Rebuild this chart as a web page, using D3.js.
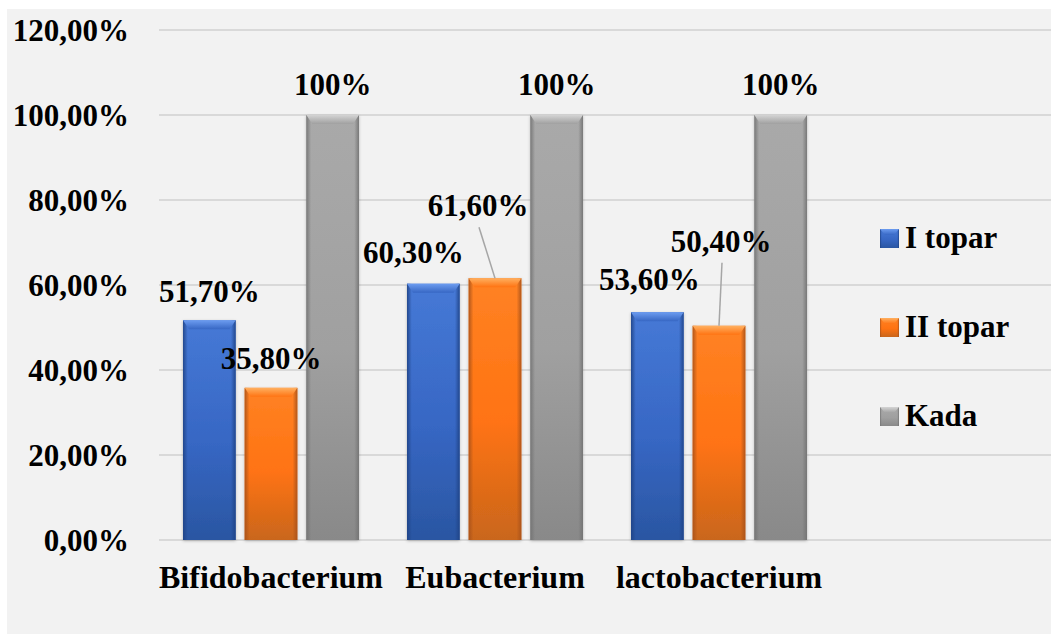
<!DOCTYPE html>
<html>
<head>
<meta charset="utf-8">
<script src="https://cdn.jsdelivr.net/npm/d3@7"></script>
</head>
<body style="margin:0">
<svg id="chart" width="1051" height="634" style="display:block"></svg>
<script>
// Bacteria groups and the three series
const categories = ["Bifidobacterium", "Eubacterium", "lactobacterium"];
const seriesNames = ["I topar", "II topar", "Kada"];
const seriesI = [0.517, 0.603, 0.536];
const seriesII = [0.358, 0.616, 0.504];
const seriesKada = [1.0, 1.0, 1.0];
const valueLabelsI = ["51,70%", "60,30%", "53,60%"];
const valueLabelsII = ["35,80%", "61,60%", "50,40%"];
const valueLabelsKada = ["100%", "100%", "100%"];
const yTicks = [0, 0.2, 0.4, 0.6, 0.8, 1.0, 1.2];
const yTickLabels = ["0,00%", "20,00%", "40,00%", "60,00%", "80,00%", "100,00%", "120,00%"];

// Label placement tweaks (dx, dy from the default spot above a bar); leader shown when pulled far away
const labelShift = {
  "I topar":  [[0, -18], [-20, -21], [-8, -22]],
  "II topar": [[0, -19], [-17, -62], [2, -74]],
  "Kada":     [[0, -20], [0, -20], [0, -20]]
};

const seriesValues = { "I topar": seriesI, "II topar": seriesII, "Kada": seriesKada };
const seriesLabels = { "I topar": valueLabelsI, "II topar": valueLabelsII, "Kada": valueLabelsKada };

const palette = {
  "I topar":  { top: "#4679d6", mid: "#3767c4", bot: "#2a56a2", edge: "#1f4386", bevel: "#6c9cf0" },
  "II topar": { top: "#ff8224", mid: "#ff7312", bot: "#c9661c", edge: "#a9521a", bevel: "#ffb060" },
  "Kada":     { top: "#a9a9a9", mid: "#a0a0a0", bot: "#898989", edge: "#737373", bevel: "#d4d4d4" }
};

const styleText = (sel, size = 31) => sel
  .attr("font-family", "Liberation Serif")
  .style("font-family", '"Liberation Serif", "Times New Roman", serif')
  .style("font-weight", "bold")
  .style("font-size", size + "px")
  .style("fill", "#000");

const svg = d3.select("#chart");
const W = 1051, H = 634;

// Chart area background
svg.append("rect").attr("x", 7).attr("y", 9).attr("width", W - 7).attr("height", H - 9).attr("fill", "#f2f2f2");

const defs = svg.append("defs");
seriesNames.forEach((s, i) => {
  const c = palette[s];
  const g = defs.append("linearGradient").attr("id", "fill" + i).attr("x1", 0).attr("y1", 0).attr("x2", 0).attr("y2", 1);
  g.append("stop").attr("offset", "0%").attr("stop-color", c.top);
  g.append("stop").attr("offset", "55%").attr("stop-color", c.mid);
  g.append("stop").attr("offset", "100%").attr("stop-color", c.bot);
  const e = defs.append("linearGradient").attr("id", "edge" + i).attr("x1", 0).attr("y1", 0).attr("x2", 1).attr("y2", 0);
  e.append("stop").attr("offset", "0%").attr("stop-color", c.edge).attr("stop-opacity", 0.9);
  e.append("stop").attr("offset", "9%").attr("stop-color", c.edge).attr("stop-opacity", 0);
  e.append("stop").attr("offset", "91%").attr("stop-color", c.edge).attr("stop-opacity", 0);
  e.append("stop").attr("offset", "100%").attr("stop-color", c.edge).attr("stop-opacity", 0.9);
  const b = defs.append("linearGradient").attr("id", "bevel" + i).attr("x1", 0).attr("y1", 0).attr("x2", 0).attr("y2", 1);
  b.append("stop").attr("offset", "0%").attr("stop-color", c.bevel);
  b.append("stop").attr("offset", "100%").attr("stop-color", c.mid);
});
const shadow = defs.append("filter").attr("id", "shadow").attr("x", "-20%").attr("y", "-5%").attr("width", "140%").attr("height", "110%");
shadow.append("feDropShadow").attr("dx", 0).attr("dy", 1).attr("stdDeviation", 1.5).attr("flood-color", "#000").attr("flood-opacity", 0.25);

// Scales
const x0 = d3.scaleBand().domain(categories).range([159, 831]).padding(0);
const x1 = d3.scaleBand().domain(seriesNames).range([24, 200]).paddingInner(0.146).paddingOuter(0);
const y = d3.scaleLinear().domain([0, 1.2]).range([540, 30]);

// Gridlines
svg.append("g").selectAll("line").data(yTicks).join("line")
  .attr("x1", 159).attr("x2", W)
  .attr("y1", d => y(d)).attr("y2", d => y(d))
  .attr("stroke", "#d9d9d9").attr("stroke-width", 2);

// Y axis labels
const yAxis = d3.axisLeft(y).tickValues(yTicks).tickFormat((d, i) => yTickLabels[i]).tickSize(0).tickPadding(0);
const yg = svg.append("g").attr("transform", "translate(129,0)").call(yAxis)
  .attr("font-family", null).attr("font-size", null);
yg.select(".domain").remove();
yg.selectAll("text").call(styleText).attr("dy", "0.33em");

// X axis labels
const xAxis = d3.axisBottom(x0).tickSize(0).tickPadding(0);
const xg = svg.append("g").attr("transform", "translate(0,540)").call(xAxis)
  .attr("font-family", null).attr("font-size", null);
xg.select(".domain").remove();
xg.selectAll("text").call(styleText, 32).attr("dy", 0).attr("y", 48);

// Bars
const barData = [];
categories.forEach((cat, ci) => {
  seriesNames.forEach((s, si) => {
    barData.push({ cat, s, si, ci, v: seriesValues[s][ci], label: seriesLabels[s][ci], shift: labelShift[s][ci] });
  });
});
const barCenter = d => x0(d.cat) + x1(d.s) + x1.bandwidth() / 2;

const bars = svg.append("g").selectAll("g.bar").data(barData).join("g").attr("class", "bar");
bars.each(function(d) {
  const g = d3.select(this);
  const bx = x0(d.cat) + x1(d.s);
  const bw = x1.bandwidth();
  const by = y(d.v);
  const bh = y(0) - by;
  g.append("rect").attr("x", bx).attr("y", by).attr("width", bw).attr("height", bh)
    .attr("fill", `url(#fill${d.si})`).attr("filter", "url(#shadow)");
  g.append("rect").attr("x", bx).attr("y", by).attr("width", bw).attr("height", bh)
    .attr("fill", `url(#edge${d.si})`);
  // top bevel
  const bev = 9;
  g.append("path")
    .attr("d", `M${bx},${by} L${bx + bw},${by} L${bx + bw - 6},${by + bev} L${bx + 6},${by + bev} Z`)
    .attr("fill", `url(#bevel${d.si})`);
});

// Leader lines and value labels sit above every bar
const labelLayer = svg.append("g");
labelLayer.selectAll("line").data(barData.filter(d => d.shift[1] < -40)).join("line")
  .attr("x1", d => barCenter(d) + d.shift[0] + 1)
  .attr("y1", d => y(d.v) + d.shift[1] + 11)
  .attr("x2", d => barCenter(d))
  .attr("y2", d => y(d.v))
  .attr("stroke", "#a6a6a6").attr("stroke-width", 1.5);

labelLayer.selectAll("text").data(barData).join("text")
  .attr("x", d => barCenter(d) + d.shift[0])
  .attr("y", d => y(d.v) + d.shift[1])
  .attr("text-anchor", "middle")
  .call(styleText)
  .text(d => d.label);

// Legend
const legend = svg.append("g").selectAll("g").data(seriesNames).join("g")
  .attr("transform", (d, i) => `translate(880, ${229 + i * 89})`);
legend.append("rect").attr("width", 19).attr("height", 19).attr("fill", (d, i) => `url(#fill${i})`);
legend.append("rect").attr("width", 19).attr("height", 19).attr("fill", (d, i) => `url(#edge${i})`);
legend.append("path").attr("d", "M0,0 L19,0 L14,6 L5,6 Z").attr("fill", (d, i) => `url(#bevel${i})`);
legend.append("text").attr("x", 25).attr("y", 19).call(styleText).text(d => d);
</script>
</body>
</html>
